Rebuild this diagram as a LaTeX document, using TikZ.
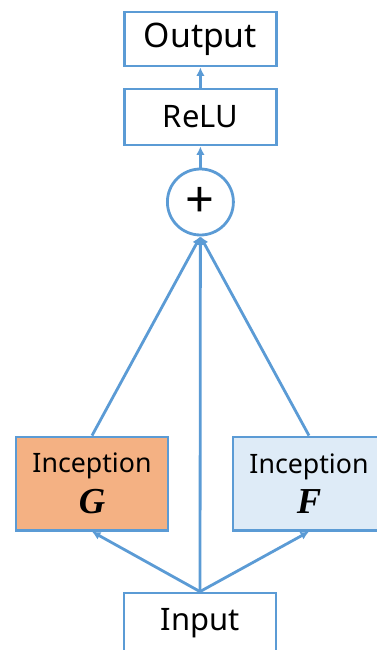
\documentclass[tikz,border=0pt]{standalone}
\usepackage{amsmath,amssymb}
\usepackage{fontspec}
\setmainfont{Noto Sans}
\newfontfamily\letterfont{Liberation Serif}
\usepackage{tikz}
\usetikzlibrary{arrows.meta}

\definecolor{lineblue}{HTML}{5B9BD5}
\definecolor{gfill}{HTML}{F4B183}
\definecolor{ffill}{HTML}{DEEBF7}

\newcommand{\blockvar}[1]{{\letterfont\fontsize{26}{29}\selectfont\bfseries\itshape #1}}

\begin{document}
\begin{tikzpicture}[
  blk/.style={rectangle, draw=lineblue, line width=2.0pt, fill=white, minimum width=3.8cm, minimum height=1.4cm, inner sep=0pt, font={\fontsize{22}{26}\selectfont}},
  incp/.style={blk, minimum height=2.33cm, align=center, font={\fontsize{19}{29}\selectfont}},
  sumv/.style={circle, draw=lineblue, line width=2.0pt, fill=white, minimum size=1.65cm, inner sep=0pt, font={\fontsize{36}{38}\selectfont}},
  flow/.style={draw=lineblue, line width=2.0pt, -{Latex[length=6pt,width=6pt]}}
]
\useasboundingbox (0,0) rectangle (9.4,-16.25);
\node[blk, minimum height=1.35cm, font={\fontsize{24}{28}\selectfont}] (out) at (5.01,-0.975) {Output};
\node[blk] (relu) at (5.01,-2.925) {ReLU};
\node[sumv] (sum) at (5.01,-5.05) {+};
\node[incp, fill=gfill] (incg) at (2.3,-12.09) {Inception\\\blockvar{G}};
\node[incp, fill=ffill] (incf) at (7.725,-12.09) {Inception\\\blockvar{F}};
\node[blk, minimum height=1.5cm] (inp) at (5.0,-15.575) {Input};
\draw[flow] (inp.north) -- (incg.south);
\draw[flow] (inp.north) -- (incf.south);
\draw[flow] (inp.north) -- (sum.south);
\draw[flow] (incg.north) -- (sum.south);
\draw[flow] (incf.north) -- (sum.south);
\draw[flow] (sum.north) -- (relu.south);
\draw[flow] (relu.north) -- (out.south);
\end{tikzpicture}
\end{document}
